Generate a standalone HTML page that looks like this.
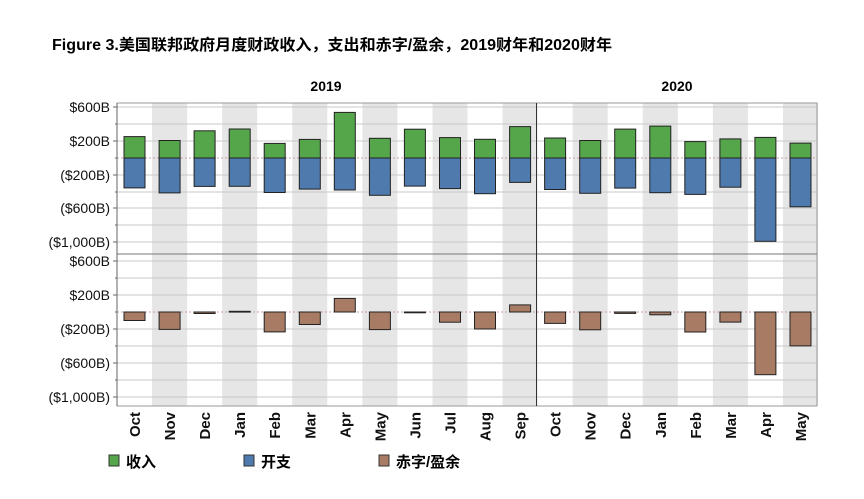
<!DOCTYPE html>
<html><head><meta charset="utf-8"><style>
html,body{margin:0;padding:0;background:#fff;}
svg{display:block;font-family:"Liberation Sans","Noto Sans CJK SC",sans-serif;}
</style></head><body>
<svg width="864" height="499" viewBox="0 0 864 499">
<text x="52" y="50" font-size="15.5" font-weight="bold" fill="#000" textLength="560" lengthAdjust="spacingAndGlyphs">Figure 3.美国联邦政府月度财政收入，支出和赤字/盈余，2019财年和2020财年</text>
<text x="326" y="91" font-size="14" font-weight="bold" text-anchor="middle">2019</text>
<text x="677" y="91" font-size="14" font-weight="bold" text-anchor="middle">2020</text>
<g fill="#e6e6e6">
<rect x="152.05" y="103" width="35.05" height="303"/><rect x="222.15" y="103" width="35.05" height="303"/>
<rect x="292.25" y="103" width="35.05" height="303"/><rect x="362.35" y="103" width="35.05" height="303"/>
<rect x="432.45" y="103" width="35.05" height="303"/><rect x="502.55" y="103" width="35.05" height="303"/>
<rect x="572.65" y="103" width="35.05" height="303"/><rect x="642.75" y="103" width="35.05" height="303"/>
<rect x="712.85" y="103" width="35.05" height="303"/><rect x="782.95" y="103" width="35.05" height="303"/>
</g>
<g stroke="#c8c8c8" stroke-width="1">
<line x1="117" x2="817" y1="107" y2="107"/><line x1="117" x2="817" y1="124" y2="124"/><line x1="117" x2="817" y1="141" y2="141"/>
<line x1="117" x2="817" y1="175" y2="175"/><line x1="117" x2="817" y1="192" y2="192"/><line x1="117" x2="817" y1="208" y2="208"/>
<line x1="117" x2="817" y1="225" y2="225"/><line x1="117" x2="817" y1="242" y2="242"/>
<line x1="117" x2="817" y1="261" y2="261"/><line x1="117" x2="817" y1="278" y2="278"/><line x1="117" x2="817" y1="295" y2="295"/>
<line x1="117" x2="817" y1="329" y2="329"/><line x1="117" x2="817" y1="346" y2="346"/><line x1="117" x2="817" y1="363" y2="363"/>
<line x1="117" x2="817" y1="380" y2="380"/><line x1="117" x2="817" y1="397" y2="397"/>
</g>
<g stroke="#c8a0a0" stroke-width="1" stroke-dasharray="2,2">
<line x1="117" x2="817" y1="158" y2="158"/><line x1="117" x2="817" y1="312" y2="312"/>
</g>
<rect x="117" y="103" width="700" height="303" fill="none" stroke="#999"/>
<line x1="117" x2="817" y1="254" y2="254" stroke="#777"/>
<line x1="536.5" x2="536.5" y1="103" y2="406" stroke="#333"/>
<line x1="117" x2="117" y1="103" y2="406" stroke="#666"/>
<g stroke="#666">
<line x1="113" x2="117" y1="107" y2="107"/><line x1="115" x2="117" y1="124" y2="124"/><line x1="113" x2="117" y1="141" y2="141"/><line x1="115" x2="117" y1="158" y2="158"/><line x1="113" x2="117" y1="175" y2="175"/><line x1="115" x2="117" y1="192" y2="192"/><line x1="113" x2="117" y1="208" y2="208"/><line x1="115" x2="117" y1="225" y2="225"/><line x1="113" x2="117" y1="242" y2="242"/>
<line x1="113" x2="117" y1="261" y2="261"/><line x1="115" x2="117" y1="278" y2="278"/><line x1="113" x2="117" y1="295" y2="295"/><line x1="115" x2="117" y1="312" y2="312"/><line x1="113" x2="117" y1="329" y2="329"/><line x1="115" x2="117" y1="346" y2="346"/><line x1="113" x2="117" y1="363" y2="363"/><line x1="115" x2="117" y1="380" y2="380"/><line x1="113" x2="117" y1="397" y2="397"/>
</g>
<g font-size="14" text-anchor="end" fill="#111">
<text x="110" y="112">$600B</text><text x="110" y="146">$200B</text><text x="110" y="180">($200B)</text><text x="110" y="213">($600B)</text><text x="110" y="247">($1,000B)</text>
<text x="110" y="266">$600B</text><text x="110" y="300">$200B</text><text x="110" y="334">($200B)</text><text x="110" y="368">($600B)</text><text x="110" y="402">($1,000B)</text>
</g>
<g fill="#55a54b" stroke="#222" stroke-width="1">
<rect x="124" y="136.6" width="21" height="21.4"/><rect x="159.1" y="140.5" width="21" height="17.5"/><rect x="194.1" y="130.8" width="21" height="27.2"/><rect x="229.2" y="129" width="21" height="29"/><rect x="264.2" y="143.4" width="21" height="14.6"/><rect x="299.3" y="139.4" width="21" height="18.6"/><rect x="334.3" y="112.4" width="21" height="45.6"/><rect x="369.4" y="138.3" width="21" height="19.7"/><rect x="404.4" y="129.2" width="21" height="28.8"/><rect x="439.5" y="137.6" width="21" height="20.4"/><rect x="474.5" y="139.3" width="21" height="18.7"/><rect x="509.6" y="126.6" width="21" height="31.4"/>
<rect x="544.6" y="138" width="21" height="20"/><rect x="579.7" y="140.5" width="21" height="17.5"/><rect x="614.7" y="129.1" width="21" height="28.9"/><rect x="649.8" y="126.1" width="21" height="31.9"/><rect x="684.8" y="141.6" width="21" height="16.4"/><rect x="719.9" y="138.9" width="21" height="19.1"/><rect x="754.9" y="137.4" width="21" height="20.6"/><rect x="790" y="143.1" width="21" height="14.9"/>
</g>
<g fill="#4f7aad" stroke="#222" stroke-width="1">
<rect x="124" y="158" width="21" height="29.9"/><rect x="159.1" y="158" width="21" height="34.9"/><rect x="194.1" y="158" width="21" height="28.4"/><rect x="229.2" y="158" width="21" height="28.3"/><rect x="264.2" y="158" width="21" height="34.5"/><rect x="299.3" y="158" width="21" height="31.1"/><rect x="334.3" y="158" width="21" height="32"/><rect x="369.4" y="158" width="21" height="37.3"/><rect x="404.4" y="158" width="21" height="28.1"/><rect x="439.5" y="158" width="21" height="30.6"/><rect x="474.5" y="158" width="21" height="35.7"/><rect x="509.6" y="158" width="21" height="24.4"/>
<rect x="544.6" y="158" width="21" height="31.5"/><rect x="579.7" y="158" width="21" height="35.3"/><rect x="614.7" y="158" width="21" height="30.1"/><rect x="649.8" y="158" width="21" height="34.7"/><rect x="684.8" y="158" width="21" height="36.4"/><rect x="719.9" y="158" width="21" height="29.2"/><rect x="754.9" y="158" width="21" height="83.3"/><rect x="790" y="158" width="21" height="48.8"/>
</g>
<g fill="#a87c64" stroke="#222" stroke-width="1">
<rect x="124" y="312" width="21" height="8.5"/><rect x="159.1" y="312" width="21" height="17.4"/><rect x="194.1" y="312" width="21" height="1.5"/><rect x="229.2" y="311.3" width="21" height="0.8"/><rect x="264.2" y="312" width="21" height="19.9"/><rect x="299.3" y="312" width="21" height="12.5"/><rect x="334.3" y="298.4" width="21" height="13.6"/><rect x="369.4" y="312" width="21" height="17.6"/><rect x="404.4" y="312" width="21" height="0.8"/><rect x="439.5" y="312" width="21" height="10.2"/><rect x="474.5" y="312" width="21" height="17"/><rect x="509.6" y="304.9" width="21" height="7.1"/>
<rect x="544.6" y="312" width="21" height="11.4"/><rect x="579.7" y="312" width="21" height="17.8"/><rect x="614.7" y="312" width="21" height="1.4"/><rect x="649.8" y="312" width="21" height="2.8"/><rect x="684.8" y="312" width="21" height="20"/><rect x="719.9" y="312" width="21" height="10.1"/><rect x="754.9" y="312" width="21" height="62.7"/><rect x="790" y="312" width="21" height="33.9"/>
</g>
<g font-size="15" font-weight="bold" text-anchor="end" fill="#111">
<text transform="translate(140,412) rotate(-90)">Oct</text><text transform="translate(175.1,412) rotate(-90)">Nov</text><text transform="translate(210.1,412) rotate(-90)">Dec</text><text transform="translate(245.2,412) rotate(-90)">Jan</text><text transform="translate(280.2,412) rotate(-90)">Feb</text><text transform="translate(315.3,412) rotate(-90)">Mar</text><text transform="translate(350.3,412) rotate(-90)">Apr</text><text transform="translate(385.4,412) rotate(-90)">May</text><text transform="translate(420.4,412) rotate(-90)">Jun</text><text transform="translate(455.5,412) rotate(-90)">Jul</text><text transform="translate(490.5,412) rotate(-90)">Aug</text><text transform="translate(525.6,412) rotate(-90)">Sep</text>
<text transform="translate(560.6,412) rotate(-90)">Oct</text><text transform="translate(595.7,412) rotate(-90)">Nov</text><text transform="translate(630.7,412) rotate(-90)">Dec</text><text transform="translate(665.8,412) rotate(-90)">Jan</text><text transform="translate(700.8,412) rotate(-90)">Feb</text><text transform="translate(735.9,412) rotate(-90)">Mar</text><text transform="translate(770.9,412) rotate(-90)">Apr</text><text transform="translate(806,412) rotate(-90)">May</text>
</g>
<rect x="109" y="455" width="10" height="11" fill="#55a54b" stroke="#333"/>
<text x="126" y="467" font-size="15" font-weight="bold">收入</text>
<rect x="244" y="455" width="10" height="11" fill="#4f7aad" stroke="#333"/>
<text x="261" y="467" font-size="15" font-weight="bold">开支</text>
<rect x="379" y="455" width="10" height="11" fill="#a87c64" stroke="#333"/>
<text x="396" y="467" font-size="15" font-weight="bold">赤字/盈余</text>
</svg>
</body></html>
